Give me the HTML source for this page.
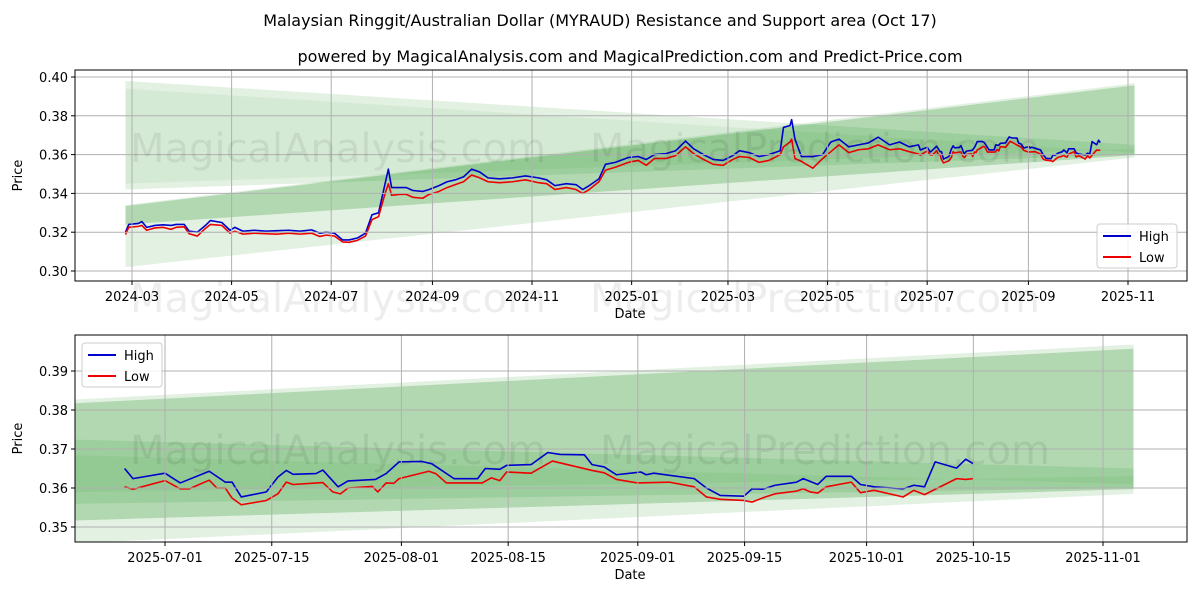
<!DOCTYPE html>
<html><head><meta charset="utf-8"><style>
html,body{margin:0;padding:0;background:#fff;width:1200px;height:600px;overflow:hidden;}
svg{display:block;font-family:"DejaVu Sans","Liberation Sans",sans-serif;}
</style></head><body>
<svg id="chart" width="1200" height="600" viewBox="0 0 1200 600">
<text x="600" y="26" text-anchor="middle" font-size="16">Malaysian Ringgit/Australian Dollar (MYRAUD) Resistance and Support area (Oct 17)</text>
<text x="630" y="62" text-anchor="middle" font-size="16">powered by MagicalAnalysis.com and MagicalPrediction.com and Predict-Price.com</text>
</svg>
<script>
// ---- data ----
const earlyDates=["2024-02-26","2024-02-28","2024-03-05","2024-03-07","2024-03-10","2024-03-15","2024-03-20","2024-03-25","2024-03-28","2024-04-02","2024-04-05","2024-04-10","2024-04-15","2024-04-18","2024-04-25","2024-04-30","2024-05-03","2024-05-08","2024-05-15","2024-05-22","2024-05-29","2024-06-05","2024-06-12","2024-06-19","2024-06-24","2024-06-28","2024-07-03","2024-07-08","2024-07-12","2024-07-17","2024-07-22","2024-07-26","2024-07-30","2024-08-03","2024-08-05","2024-08-07","2024-08-12","2024-08-16","2024-08-20","2024-08-26","2024-08-30","2024-09-05","2024-09-10","2024-09-15","2024-09-20","2024-09-25","2024-09-30","2024-10-05","2024-10-12","2024-10-20","2024-10-28","2024-11-05","2024-11-10","2024-11-15","2024-11-22","2024-11-28","2024-12-02","2024-12-06","2024-12-12","2024-12-16","2024-12-22","2024-12-30","2025-01-05","2025-01-10","2025-01-15","2025-01-22","2025-01-28","2025-02-03","2025-02-08","2025-02-14","2025-02-20","2025-02-26","2025-03-04","2025-03-08","2025-03-14","2025-03-20","2025-03-26","2025-04-02","2025-04-04","2025-04-08","2025-04-09","2025-04-11","2025-04-15","2025-04-22","2025-04-28","2025-05-03","2025-05-08","2025-05-14","2025-05-20","2025-05-26","2025-06-01","2025-06-08","2025-06-14","2025-06-20"];
const earlyHigh=[.3200,.3240,.3245,.3255,.3225,.3235,.3238,.3235,.3240,.3240,.3205,.3200,.3235,.3260,.3250,.3210,.3225,.3205,.3210,.3205,.3208,.3210,.3205,.3212,.3195,.3200,.3195,.3160,.3160,.3170,.3195,.3290,.3300,.3450,.3525,.3430,.3430,.3430,.3415,.3410,.3420,.3440,.3460,.3470,.3485,.3525,.3510,.3480,.3475,.3480,.3490,.3480,.3470,.3440,.3450,.3445,.3420,.3440,.3475,.3550,.3560,.3585,.3590,.3575,.3600,.3605,.3620,.3670,.3630,.3600,.3575,.3570,.3595,.3620,.3610,.3590,.3600,.3620,.3740,.3750,.3780,.3680,.3590,.3590,.3600,.3665,.3680,.3640,.3650,.3660,.3690,.3650,.3665,.3640];
const earlyLow=[.3188,.3225,.3230,.3235,.3210,.3222,.3225,.3215,.3225,.3228,.3192,.3180,.3220,.3240,.3235,.3195,.3205,.3190,.3195,.3192,.3190,.3195,.3190,.3195,.3178,.3185,.3180,.3150,.3148,.3158,.3180,.3265,.3280,.3400,.3450,.3390,.3395,.3395,.3380,.3375,.3395,.3410,.3430,.3445,.3460,.3495,.3480,.3460,.3455,.3460,.3470,.3455,.3450,.3420,.3430,.3420,.3400,.3420,.3460,.3520,.3535,.3560,.3570,.3545,.3580,.3580,.3595,.3640,.3605,.3575,.3550,.3545,.3575,.3590,.3585,.3560,.3570,.3600,.3640,.3665,.3680,.3580,.3565,.3530,.3580,.3615,.3650,.3610,.3625,.3630,.3650,.3625,.3630,.3615];
// recent data: day offsets from 2025-07-01
const recentHighDays=[-5.3,-4.2,0,2,5.8,7.9,8.8,10,13.3,14.8,15.9,16.8,19.8,20.7,22.7,24,27.6,29,30.7,33.7,35,37.9,41,42,43.9,44.8,48,50.2,51.8,55,56,57.6,59.2,62.4,63.1,64.1,69.4,71,72.8,75.9,77,78.4,80,82.8,83.7,85.6,86.7,90,91.2,93,96.8,98.2,99.6,101,103.8,105,106];
const recentHigh=[.3650,.3624,.3638,.3613,.3643,.3615,.3615,.3577,.3590,.3628,.3645,.3635,.3637,.3646,.3603,.3618,.3622,.3637,.3667,.3668,.3662,.3624,.3624,.3650,.3648,.3658,.3660,.3691,.3686,.3685,.3660,.3654,.3634,.3641,.3634,.3638,.3624,.3600,.3581,.3579,.3598,.3597,.3607,.3615,.3624,.3609,.3630,.3630,.3609,.3603,.3598,.3607,.3603,.3667,.3651,.3674,.3662];
const recentLowDays=[-5.3,-4.2,0,2,3.2,5.8,6.8,7.9,8.8,10,13.3,14.8,15.9,16.8,20.7,22,23,24,27.2,27.9,29,30,30.7,34.6,35.5,36.9,41.6,42.8,43.9,44.8,48,50.8,56,57.6,59.2,62,66.1,69.4,71,72.8,75.9,77,78.7,80,82.8,83.7,84.6,85.6,86.7,90,91.2,93,96.8,98.2,99.6,103.8,105,106];
const recentLow=[.3603,.3597,.3619,.3598,.3598,.3620,.3600,.3600,.3574,.3557,.3568,.3585,.3615,.3609,.3614,.3590,.3585,.3600,.3604,.3590,.3613,.3612,.3624,.3643,.3637,.3613,.3613,.3626,.3619,.3641,.3638,.3669,.3645,.3639,.3622,.3613,.3615,.3603,.3577,.3571,.3568,.3564,.3577,.3585,.3592,.3598,.3590,.3587,.3603,.3615,.3588,.3594,.3577,.3594,.3583,.3624,.3622,.3624];
// bands: [start bottom, start top, end bottom, end top]
const bandStart="2024-02-26", bandEnd="2025-11-05";
const bandOuterUp=[0.302,0.334,0.3585,0.3968];
const bandInnerUp=[0.324,0.3335,0.3597,0.3957];
const bandDown=[0.342,0.398,0.360,0.365];
const topYTicks=[0.30,0.32,0.34,0.36,0.38,0.40];
const topXTicks=["2024-03","2024-05","2024-07","2024-09","2024-11","2025-01","2025-03","2025-05","2025-07","2025-09","2025-11"];
const botYTicks=[0.35,0.36,0.37,0.38,0.39];
const botXTicks=["2025-07-01","2025-07-15","2025-08-01","2025-08-15","2025-09-01","2025-09-15","2025-10-01","2025-10-15","2025-11-01"];

const NS="http://www.w3.org/2000/svg";
const svg=document.getElementById('chart');
const DAY=86400000;
const t=s=>Date.parse(s.length===7?s+"-01":s);
const base=t("2025-07-01");
const recentHighT=recentHighDays.map(d=>base+d*DAY);
const recentLowT=recentLowDays.map(d=>base+d*DAY);
function el(tag,attrs,parent){const e=document.createElementNS(NS,tag);for(const k in attrs)e.setAttribute(k,attrs[k]);(parent||svg).appendChild(e);return e;}

function panel(cfg){
  const g=el('g',{});
  
  
  const X=ms=>cfg.x0+(ms-cfg.t0)/DAY*cfg.pxDay;
  const Y=v=>cfg.y0-(v-cfg.v0)*cfg.pxVal;
  const cid='clip'+cfg.name;
  const cp=el('clipPath',{id:cid},g);el('rect',{x:cfg.L,y:cfg.T,width:cfg.R-cfg.L,height:cfg.B-cfg.T},cp);
  const inner=el('g',{'clip-path':'url(#'+cid+')'},g);
  const ts=t(bandStart),te=t(bandEnd);
  [[bandOuterUp,'rgba(0,128,0,0.11)','band-outer-up'],[bandDown,'rgba(0,128,0,0.11)','band-down'],[bandInnerUp,'rgba(0,128,0,0.22)','band-inner-up'],[bandDown.map((v,i)=>i%2?v-0.004:v+0.003),'rgba(0,128,0,0.06)','band-down-core']].forEach(b=>{
    const d=b[0];
    const p=el('polygon',{points:`${X(ts)},${Y(d[1])} ${X(te)},${Y(d[3])} ${X(te)},${Y(d[2])} ${X(ts)},${Y(d[0])}`,fill:b[1]},inner);
    
    
  });
  cfg.yt.forEach(v=>{const l=el('line',{x1:cfg.L,x2:cfg.R,y1:Y(v),y2:Y(v),stroke:'#b0b0b0','stroke-width':1},g);
    el('line',{x1:cfg.L-4,x2:cfg.L,y1:Y(v),y2:Y(v),stroke:'#000'},g);
    const tx=el('text',{x:cfg.L-7,y:Y(v)+5,'text-anchor':'end','font-size':13},g);tx.textContent=v.toFixed(2);
    });
  cfg.xt.forEach(s=>{const x=X(t(s));const l=el('line',{x1:x,x2:x,y1:cfg.T,y2:cfg.B,stroke:'#b0b0b0','stroke-width':1},g);
    el('line',{x1:x,x2:x,y1:cfg.B,y2:cfg.B+4,stroke:'#000'},g);
    const tx=el('text',{x:x,y:cfg.B+20,'text-anchor':'middle','font-size':13},g);tx.textContent=s;
    });
  cfg.wm.forEach(w=>{const tx=el('text',{x:w[0],y:w[1],'font-size':40,fill:'rgba(0,0,0,0.07)'},g);tx.textContent=w[2];
    });
  const line=(ts,vs,color,name)=>{const p=el('polyline',{points:ts.map((d,i)=>X(d)+','+Y(vs[i])).join(' '),fill:'none',stroke:color,'stroke-width':1.6,'stroke-linejoin':'round'},inner);
    };
  line(cfg.highT,cfg.high,'#0000cc','high-line');
  line(cfg.lowT,cfg.low,'#ee0000','low-line');
  el('rect',{x:cfg.L,y:cfg.T,width:cfg.R-cfg.L,height:cfg.B-cfg.T,fill:'none',stroke:'#000','stroke-width':1},g);
  const yl=el('text',{x:0,y:0,transform:`translate(${cfg.L-53},${(cfg.T+cfg.B)/2}) rotate(-90)`,'text-anchor':'middle','font-size':13},g);yl.textContent='Price';
  
  const xl=el('text',{x:630,y:cfg.B+37,'text-anchor':'middle','font-size':13},g);xl.textContent='Date';
  
  const lg=el('g',{},g);
  
  
  const [lx,ly]=cfg.leg;
  el('rect',{x:lx,y:ly,width:80,height:44,rx:3,fill:'rgba(255,255,255,0.85)',stroke:'#ccc'},lg);
  [['High','#0000cc',0],['Low','#ee0000',21]].forEach(e=>{
    el('line',{x1:lx+6,x2:lx+34,y1:ly+12+e[2],y2:ly+12+e[2],stroke:e[1],'stroke-width':2},lg);
    const tx=el('text',{x:lx+42,y:ly+17+e[2],'font-size':13},lg);tx.textContent=e[0];
    
  });
}
panel({name:'top-panel',L:75,R:1187,T:70,B:281,x0:132,t0:t("2024-03-01"),pxDay:996/610,y0:271,v0:0.30,pxVal:1940,
  yt:topYTicks,xt:topXTicks,
  highT:earlyDates.map(t).concat(recentHighT),high:earlyHigh.concat(recentHigh),
  lowT:earlyDates.map(t).concat(recentLowT),low:earlyLow.concat(recentLow),
  leg:[1097,224],wm:[[130,162,'MagicalAnalysis.com'],[590,162,'MagicalPrediction.com'],[130,312,'MagicalAnalysis.com'],[590,312,'MagicalPrediction.com']]});
panel({name:'bottom-panel',L:75,R:1187,T:335,B:542,x0:165,t0:t("2025-07-01"),pxDay:938/123,y0:527,v0:0.35,pxVal:3900,
  yt:botYTicks,xt:botXTicks,highT:recentHighT,high:recentHigh,lowT:recentLowT,low:recentLow,
  leg:[82,343],wm:[[130,464,'MagicalAnalysis.com'],[600,464,'MagicalPrediction.com']]});
</script>
</body></html>
